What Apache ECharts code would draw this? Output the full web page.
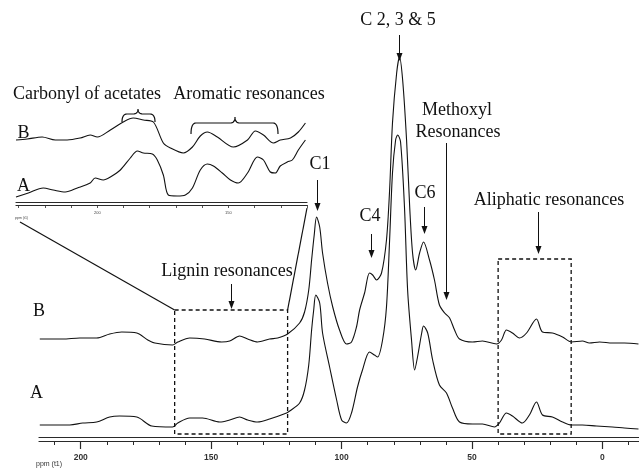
<!DOCTYPE html>
<html>
<head>
<meta charset="utf-8">
<script src="https://cdn.jsdelivr.net/npm/echarts@6/dist/echarts.min.js"></script>
<style>
html,body{margin:0;padding:0;background:#fff}
#chart{width:639px;height:472px}
</style>
</head>
<body>
<div id="chart"></div>
<script>
// 13C CP/MAS NMR spectra of samples A and B: chemical shift (ppm) vs. intensity (a.u.)
const shiftA = [215.7,204.2,199.2,193.9,188.9,185.1,178.5,172.8,164.8,162.8,158.2,153.3,146.7,142.9,139.1,136.0,132.2,127.6,121.1,119.9,116.1,114.2,112.6,111.5,110.7,109.9,108.4,107.3,104.6,101.9,100.0,98.1,96.2,93.9,92.0,89.3,87.4,86.2,84.3,82.8,81.6,80.5,79.3,78.5,77.4,75.9,74.7,73.2,72.0,70.9,69.3,68.6,67.0,65.1,62.5,59.8,57.5,54.8,49.8,46.0,41.4,39.5,36.8,34.5,30.7,28.0,25.3,23.0,19.2,15.3,11.9,7.7,2.3,-3.8,-8.4,-13.8];
const intensityA = [0,0,2,3,8,9,8,-1,-2,2,7,7,3,5,8,5,3,6,12,14,22,35,60,95,115,130,122,92,58,25,5,2,12,38,55,73,70,68,85,118,185,252,285,290,283,218,135,85,55,68,92,99,92,65,40,32,17,3,1,1,-2,2,12,9,2,10,23,10,8,3,0,0,-1,-2,-3,-4];

const shiftB = [215.7,206.9,200.4,193.9,188.9,184.3,178.5,174.3,171.6,164.8,162.8,158.2,152.5,146.0,142.9,139.1,136.0,132.2,127.6,124.5,120.7,116.1,114.2,112.6,111.5,110.5,109.6,108.4,107.3,105.4,103.4,100.8,98.1,96.2,94.3,93.1,91.2,89.3,88.1,86.6,84.7,82.8,81.6,80.5,78.9,77.8,76.6,75.1,73.9,72.8,71.6,70.1,68.6,66.3,64.4,62.5,60.5,58.6,56.7,54.8,49.8,46.0,40.6,38.7,36.8,34.5,31.8,29.1,25.3,23.0,19.2,15.3,11.9,7.7,5.0,1.1,-3.8,-8.4,-13.8];
const intensityB = [0,0,1,1,5,7,6,-1,-4,-6,-3,1,0,-3,-2,3,0,-3,0,1,5,16,27,49,79,104,122,112,86,56,32,9,-5,-3,12,29,46,66,64,59,66,99,149,216,266,282,259,199,132,86,69,86,97,79,59,34,26,21,9,0,-3,-2,-5,-1,9,6,1,6,20,7,6,2,-3,-2,-4,-3,-4,-4,-5];

// Expanded 231-120 ppm region (carbonyl and aromatic resonances)
const insetShiftA = [231.0,226.3,220.6,216.8,212.2,207.6,202.7,200.8,197.7,195.0,191.2,187.4,184.7,182.4,179.0,177.1,174.8,172.9,169.5,166.4,163.7,160.7,158.0,155.7,152.3,149.2,146.2,142.7,138.9,136.6,134.0,132.1,130.2,127.5,125.6,123.3,120.6];
const insetIntensityA = [0,4,9,7,5,9,14,19,17,20,27,39,46,44,43,37,22,2,1,2,9,27,33,31,24,17,14,24,40,37,25,24,31,35,37,47,57];
const insetShiftB = [231.0,226.7,221.0,216.0,211.5,206.5,202.7,200.0,195.0,190.1,186.3,182.4,178.6,174.8,172.1,167.2,163.7,160.7,158.0,154.2,148.1,142.7,139.7,136.6,132.8,130.2,126.3,123.3,120.6];
const insetIntensityB = [0,1,3,0,0,2,5,3,10,18,22,20,18,-3,-8,-13,-7,4,8,3,-7,0,9,5,-3,0,2,8,17];

const mainLabelTicks = [200,150,100,50,0];
const mainMinorTicks = [210,200,190,180,170,160,150,140,130,120,110,100,90,80,70,60,50,40,30,20,10,0,-10];
const insetLabelTicks = [200,150];
const insetMinorTicks = [230,220,210,200,190,180,170,160,150,140,130,120];

// Dashed regions: [ppm from, ppm to, intensity A bottom, intensity A top]
const ligninRegion = [164, 120.7, -9, 115];
const aliphaticRegion = [40, 12, -9, 166];

const zipPairs = (xs, ys) => xs.map((x, i) => [x, ys[i]]);

const ink = '#111';
const axisColor = '#2a2a2a';
const serif = '"Liberation Serif", "Times New Roman", serif';

const chart = echarts.init(document.getElementById('chart'), null, {renderer: 'canvas'});

function spectrumLine(name, xIdx, yIdx, data, width) {
  return {
    name, type: 'line', xAxisIndex: xIdx, yAxisIndex: yIdx,
    data, showSymbol: false, smooth: 0.3, clip: false,
    lineStyle: {color: ink, width: width}, silent: true
  };
}

function xAxisBase(grid, min, max) {
  return {
    gridIndex: grid, type: 'value', min, max, inverse: true, position: 'bottom',
    splitLine: {show: false}, axisTick: {show: false}, axisLabel: {show: false},
    axisLine: {show: true, onZero: false, lineStyle: {color: axisColor, width: 1.2}}
  };
}

const option = {
  animation: false,
  backgroundColor: '#fff',
  grid: [
    {left: 39, right: 0, top: 37, height: 400},
    {left: 16, top: 100, width: 291, height: 102}
  ],
  xAxis: [
    xAxisBase(0, -14, 216),
    Object.assign(xAxisBase(0, -14, 216), {
      offset: 4,
      axisTick: {show: true, customValues: mainMinorTicks, length: 4, lineStyle: {color: axisColor, width: 1}}
    }),
    Object.assign(xAxisBase(0, -14, 216), {
      offset: 4, axisLine: {show: false, onZero: false},
      axisTick: {show: true, customValues: mainLabelTicks, length: 8, lineStyle: {color: axisColor, width: 1.2}},
      axisLabel: {show: true, customValues: mainLabelTicks, margin: 12, fontSize: 8.5, fontWeight: 'bold',
                  color: '#333', fontFamily: '"Liberation Sans", Arial, sans-serif'}
    }),
    xAxisBase(1, 120, 231),
    Object.assign(xAxisBase(1, 120, 231), {
      offset: 3,
      axisTick: {show: true, customValues: insetMinorTicks, length: 3, lineStyle: {color: axisColor, width: 0.8}},
      axisLabel: {show: true, customValues: insetLabelTicks, margin: 6, fontSize: 4,
                  color: '#444', fontFamily: '"Liberation Sans", Arial, sans-serif'}
    })
  ],
  yAxis: [
    {gridIndex: 0, type: 'value', min: -12, max: 388, show: false},
    {gridIndex: 0, type: 'value', min: -98, max: 302, show: false},
    {gridIndex: 1, type: 'value', min: -5, max: 97, show: false},
    {gridIndex: 1, type: 'value', min: -62, max: 40, show: false}
  ],
  series: [
    spectrumLine('A', 0, 0, zipPairs(shiftA, intensityA), 1.1),
    spectrumLine('B', 0, 1, zipPairs(shiftB, intensityB), 1.1),
    spectrumLine('A (expanded)', 3, 2, zipPairs(insetShiftA, insetIntensityA), 1.1),
    spectrumLine('B (expanded)', 3, 3, zipPairs(insetShiftB, insetIntensityB), 1.1)
  ]
};
chart.setOption(option);

// ---- annotations -------------------------------------------------------
const xOf = ppm => chart.convertToPixel({xAxisIndex: 0}, ppm);
const ptA = (ppm, v) => chart.convertToPixel({xAxisIndex: 0, yAxisIndex: 0}, [ppm, v]);

const g = [];
function text(str, x, y, size, align) {
  g.push({type: 'text', x, y, silent: true,
    style: {text: str, font: (size || 18) + 'px ' + serif, fill: ink,
            textAlign: align || 'center', textVerticalAlign: 'middle'}});
}
function arrow(ppm, y1, y2) {
  const x = Math.round(xOf(ppm)) + 0.5;
  g.push({type: 'line', silent: true, shape: {x1: x, y1: y1, x2: x, y2: y2 - 6},
          style: {stroke: ink, lineWidth: 1}});
  g.push({type: 'polygon', silent: true, shape: {points: [[x - 3, y2 - 8], [x + 3, y2 - 8], [x, y2]]},
          style: {fill: ink}});
}
function dashedBox(region) {
  const p1 = ptA(region[0], region[3]);
  const p2 = ptA(region[1], region[2]);
  g.push({type: 'rect', silent: true,
    shape: {x: p1[0], y: p1[1], width: p2[0] - p1[0], height: p2[1] - p1[1]},
    style: {fill: 'none', stroke: ink, lineWidth: 1.3, lineDash: [4, 3]}});
  return [p1, p2];
}
// sample a quadratic bezier into points
function quad(p0, c, p1, n) {
  const pts = [];
  for (let i = 0; i <= n; i++) {
    const t = i / n, u = 1 - t;
    pts.push([u * u * p0[0] + 2 * u * t * c[0] + t * t * p1[0],
              u * u * p0[1] + 2 * u * t * c[1] + t * t * p1[1]]);
  }
  return pts;
}
function brace(x0, x1, xc, yTip, yMid, yEnd) {
  const r = 5;
  const pts = [].concat(
    quad([x0, yEnd], [x0, yMid], [x0 + r, yMid], 8),
    quad([xc - r, yMid], [xc, yMid], [xc, yTip], 8),
    quad([xc, yTip], [xc, yMid], [xc + r, yMid], 8),
    quad([x1 - r, yMid], [x1, yMid], [x1, yEnd], 8)
  );
  g.push({type: 'polyline', silent: true, shape: {points: pts},
          style: {fill: 'none', stroke: ink, lineWidth: 1.2}});
}

// Highlighted regions and the lines linking the lignin region to the expansion
const lig = dashedBox(ligninRegion);
dashedBox(aliphaticRegion);
g.push({type: 'line', silent: true, shape: {x1: 20, y1: 222, x2: lig[0][0], y2: lig[0][1]},
        style: {stroke: ink, lineWidth: 1.2}});
g.push({type: 'line', silent: true, shape: {x1: 307, y1: 208, x2: lig[1][0], y2: lig[0][1]},
        style: {stroke: ink, lineWidth: 1.2}});

// Peak assignments
text('C 2, 3 & 5', 398, 20);
arrow(78.0, 35, 61);
text('Methoxyl', 457, 110);
text('Resonances', 458, 132);
arrow(59.8, 143, 300);
text('C1', 320, 164);
arrow(109.6, 180, 211);
text('C4', 370, 216);
arrow(88.9, 234, 258);
text('C6', 425, 193);
arrow(68.4, 207, 234);
text('Aliphatic resonances', 549, 200);
arrow(24.9, 212, 254);
text('Lignin resonances', 227, 271);
arrow(142.5, 284, 309);

// Spectrum labels
text('B', 39, 311.5);
text('A', 36.5, 393.5);
text('B', 23.5, 133);
text('A', 23.5, 186);

// Expansion titles and braces
text('Carbonyl of acetates', 87, 94);
text('Aromatic resonances', 249, 94);
brace(122, 155, 138, 109, 114, 122);
brace(191, 278, 235, 117, 123, 134);

// Axis titles
g.push({type: 'text', x: 36, y: 464, silent: true,
  style: {text: 'ppm (t1)', font: '7px "Liberation Sans", Arial, sans-serif', fill: '#333',
          textAlign: 'left', textVerticalAlign: 'middle'}});
g.push({type: 'text', x: 15, y: 218, silent: true,
  style: {text: 'ppm (t1)', font: '3.5px "Liberation Sans", Arial, sans-serif', fill: '#444',
          textAlign: 'left', textVerticalAlign: 'middle'}});

chart.setOption({graphic: g});
</script>
</body>
</html>
